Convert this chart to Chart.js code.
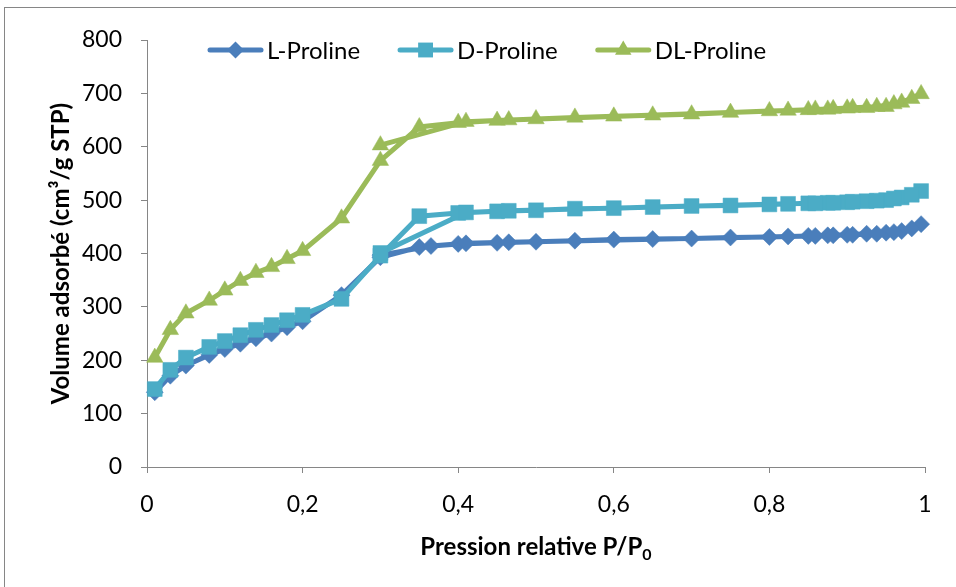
<!DOCTYPE html>
<html><head><meta charset="utf-8">
<script src="https://cdn.jsdelivr.net/npm/chart.js@4/dist/chart.umd.min.js"></script>
<style>html,body{margin:0;padding:0;background:#fff;}#wrap{width:956px;height:587px;}</style>
</head><body><div id="wrap"><canvas id="c" width="956" height="587"></canvas></div>
<script>
// ---- data ----
const seriesNames = ['L-Proline', 'D-Proline', 'DL-Proline'];
const seriesColors = ['#4A7EBB', '#4BACC6', '#9BBB59'];

const lProlineX = [0.01,0.03,0.05,0.08,0.10,0.12,0.14,0.16,0.18,0.20,0.25,0.30,0.35,0.40,0.45,0.50,0.55,0.60,0.65,0.70,0.75,0.80,0.85,0.875,0.90,0.925,0.95,0.97,0.995,0.983,0.96,0.938,0.907,0.882,0.859,0.824,0.465,0.41,0.365,0.30];
const lProlineY = [140,171,190,210,221,231,241,250,262,273,322,393,412,418,420,422,424,426,427,428,430,431,433,434,435,437,439,442,455,447,440,437,435,434,433,432,421,419,414,397];

const dProlineX = [0.01,0.03,0.05,0.08,0.10,0.12,0.14,0.16,0.18,0.20,0.25,0.30,0.35,0.40,0.45,0.50,0.55,0.60,0.65,0.70,0.75,0.80,0.85,0.875,0.90,0.925,0.95,0.97,0.995,0.983,0.96,0.938,0.907,0.882,0.859,0.824,0.465,0.41,0.30];
const dProlineY = [146,182,205,225,236,247,257,266,275,285,315,396,470,476,479,481,484,485,487,489,490,492,494,495,496,498,500,505,517,510,503,499,497,495,494,493,480,477,401];

const dlProlineX = [0.01,0.03,0.05,0.08,0.10,0.12,0.14,0.16,0.18,0.20,0.25,0.30,0.35,0.40,0.45,0.50,0.55,0.60,0.65,0.70,0.75,0.80,0.85,0.875,0.90,0.925,0.95,0.97,0.995,0.983,0.96,0.938,0.907,0.882,0.859,0.824,0.465,0.41,0.30];
const dlProlineY = [205,257,288,312,331,349,364,375,390,405,466,574,637,645,649,652,655,657,659,661,664,667,669,670,672,673,675,683,699,690,680,675,673,671,670,668,650,647,603];

const xTickValues = [0, 0.2, 0.4, 0.6, 0.8, 1];
const xTickLabels = ['0', '0,2', '0,4', '0,6', '0,8', '1'];
const yTickValues = [0, 100, 200, 300, 400, 500, 600, 700, 800];
const xTitle = 'Pression relative P/P';
const xTitleSub = '0';
const yTitle = 'Volume adsorbé (cm³/g STP)';

// ---- build ----
const pts = (xs, ys) => xs.map((x, i) => ({x: x, y: ys[i]}));
const styles = ['rectRot', 'rect', 'triangle'];
const radii = [8.5, 10.5, 9.5];
const seriesData = [pts(lProlineX, lProlineY), pts(dProlineX, dProlineY), pts(dlProlineX, dlProlineY)];

const datasets = seriesNames.map((name, i) => ({
  label: name,
  data: seriesData[i],
  borderColor: seriesColors[i],
  backgroundColor: seriesColors[i],
  pointBackgroundColor: seriesColors[i],
  pointBorderColor: seriesColors[i],
  pointBorderWidth: 0.5,
  pointStyle: styles[i],
  pointRadius: radii[i],
  borderWidth: 5,
  tension: 0,
  order: 3 - i,
  clip: false
}));

const FONT = 'Lato, Carlito, "Liberation Sans", sans-serif';
const AXIS = '#868686';

function drawMarker(ctx, style, x, y, r, color) {
  ctx.save();
  ctx.fillStyle = color;
  ctx.beginPath();
  if (style === 'rectRot') {
    ctx.moveTo(x, y - r); ctx.lineTo(x + r, y); ctx.lineTo(x, y + r); ctx.lineTo(x - r, y);
  } else if (style === 'rect') {
    const s = r * Math.SQRT1_2; ctx.rect(x - s, y - s, 2 * s, 2 * s);
  } else {
    const w = r * Math.sqrt(3) / 2;
    ctx.moveTo(x, y - r); ctx.lineTo(x + w, y + r / 2); ctx.lineTo(x - w, y + r / 2);
  }
  ctx.closePath(); ctx.fill(); ctx.restore();
}

const decor = {
  id: 'decor',
  afterDraw(chart) {
    const ctx = chart.ctx;
    const area = chart.chartArea;
    ctx.save();
    // outer frame
    ctx.strokeStyle = AXIS; ctx.lineWidth = 1;
    ctx.strokeRect(4.5, 7.5, 2000, 2000);
    // legend
    ctx.font = '24px ' + FONT;
    ctx.textBaseline = 'middle';
    ctx.fillStyle = '#000';
    let x = 208; const ly = 50;
    chart.data.datasets.forEach((ds, i) => {
      ctx.strokeStyle = ds.borderColor; ctx.lineWidth = 5; ctx.lineCap = 'round';
      ctx.beginPath(); ctx.moveTo(x + 2, ly); ctx.lineTo(x + 53, ly); ctx.stroke();
      drawMarker(ctx, ds.pointStyle, x + 27.5, ly, ds.pointRadius, ds.borderColor);
      ctx.fillStyle = '#000';
      ctx.fillText(ds.label, x + 59, ly + 1);
      x += 59 + ctx.measureText(ds.label).width + 38;
    });
    // x title
    ctx.font = 'bold 24px ' + FONT;
    ctx.textBaseline = 'alphabetic';
    const w1 = ctx.measureText(xTitle).width;
    ctx.font = 'bold 16px ' + FONT;
    const w2 = ctx.measureText(xTitleSub).width;
    const cx = (area.left + area.right) / 2;
    const sx = cx - (w1 + w2) / 2;
    ctx.font = 'bold 24px ' + FONT;
    ctx.textAlign = 'left';
    ctx.fillText(xTitle, sx, 555);
    ctx.font = 'bold 16px ' + FONT;
    ctx.fillText(xTitleSub, sx + w1, 560);
    // y title
    ctx.translate(61, (area.top + area.bottom) / 2);
    ctx.rotate(-Math.PI / 2);
    ctx.font = 'bold 24px ' + FONT;
    ctx.textAlign = 'center';
    ctx.textBaseline = 'middle';
    ctx.fillText(yTitle, 0, 0);
    ctx.restore();
  }
};

new Chart(document.getElementById('c'), {
  type: 'line',
  data: {datasets: datasets},
  options: {
    responsive: false,
    animation: false,
    devicePixelRatio: 1,
    layout: {padding: {left: 0, right: 31, top: 40, bottom: 0}},
    plugins: {legend: {display: false}, tooltip: {enabled: false}},
    scales: {
      x: {
        type: 'linear', min: 0, max: 1,
        afterBuildTicks: s => { s.ticks = xTickValues.map(v => ({value: v})); },
        afterFit: s => { s.height = 120; },
        ticks: {color: '#000', font: {family: FONT, size: 23}, padding: 18, maxRotation: 0,
                callback: (v, i) => xTickLabels[i]},
        grid: {drawOnChartArea: false, color: AXIS, tickLength: 6, tickWidth: 1},
        border: {color: AXIS, width: 1}
      },
      y: {
        type: 'linear', min: 0, max: 800,
        afterBuildTicks: s => { s.ticks = yTickValues.map(v => ({value: v})); },
        afterFit: s => { s.width = 147; },
        ticks: {color: '#000', font: {family: FONT, size: 23}, padding: 19},
        grid: {drawOnChartArea: false, color: AXIS, tickLength: 6, tickWidth: 1},
        border: {color: AXIS, width: 1}
      }
    }
  },
  plugins: [decor]
});
</script>
</body></html>
